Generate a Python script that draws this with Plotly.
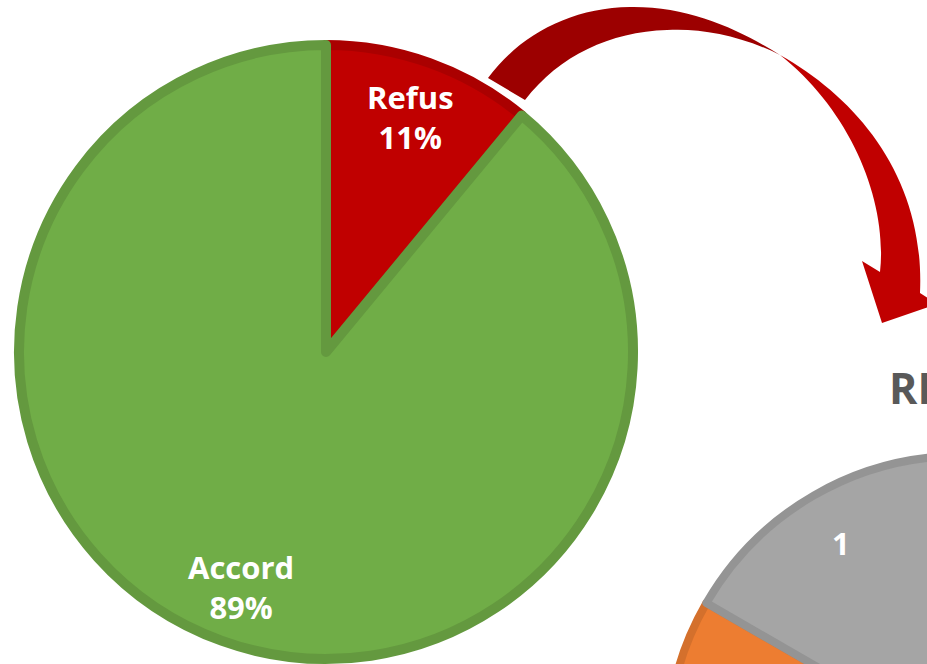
import math
import plotly.graph_objects as go

# ---------------- data ----------------
main_labels = ["Refus", "Accord"]
main_values = [11, 89]
main_colors = ["#C00000", "#70AD47"]
main_line_colors = ["#AA0000", "#64993F"]

sub_title = "REFUS"
sub_labels = ["Motif 1", "Motif 2", "Motif 3"]
sub_values = [3, 2, 1]
sub_colors = ["#4472C4", "#ED7D31", "#A5A5A5"]
sub_line_colors = ["#3D66AE", "#D4702C", "#949494"]

# ---------------- geometry (pixels) ----------------
W, H = 1300, 1100
MAIN_C, MAIN_R = (326, 352), 307
SUB_C, SUB_R = (961, 750), 294
LINE_W = 10


def domain(c, r):
    cx, cy = c
    return dict(x=[(cx - r) / W, (cx + r) / W], y=[1 - (cy + r) / H, 1 - (cy - r) / H])


def label_xy(values, i, c, r, frac=0.8):
    tot = sum(values)
    cum = sum(values[:i]) + values[i] / 2
    a = 2 * math.pi * cum / tot
    return c[0] + frac * r * math.sin(a), c[1] - frac * r * math.cos(a)


fig = go.Figure()
fig.add_trace(go.Scatter(x=[], y=[], showlegend=False, hoverinfo="skip"))

fig.add_trace(go.Pie(
    labels=main_labels, values=main_values, sort=False, direction="clockwise",
    rotation=0, textinfo="none", hoverinfo="label+percent",
    marker=dict(colors=main_colors, line=dict(color=main_line_colors, width=LINE_W)),
    domain=domain(MAIN_C, MAIN_R), showlegend=False))

fig.add_trace(go.Pie(
    labels=sub_labels, values=sub_values, sort=False, direction="clockwise",
    rotation=0, textinfo="none", hoverinfo="label+value",
    marker=dict(colors=sub_colors, line=dict(color=sub_line_colors, width=LINE_W - 2)),
    domain=domain(SUB_C, SUB_R), showlegend=False))

annotations = []
tot = sum(main_values)
for i, (lab, v) in enumerate(zip(main_labels, main_values)):
    x, y = label_xy(main_values, i, MAIN_C, MAIN_R + 5)
    annotations.append(dict(
        x=x, y=y, xref="x", yref="y", showarrow=False,
        text=f"<b>{lab}</b><br><b>{round(100 * v / tot)}%</b>",
        font=dict(family="Open Sans", size=31, color="white")))

for i, v in enumerate(sub_values):
    x, y = label_xy(sub_values, i, SUB_C, SUB_R + 5)
    annotations.append(dict(
        x=x, y=y, xref="x", yref="y", showarrow=False,
        text=f"<b>{v}</b>",
        font=dict(family="Open Sans", size=31, color="white")))

annotations.append(dict(
    x=SUB_C[0] - 6, y=387, xref="x", yref="y", showarrow=False,
    text=f"<b>{sub_title}</b>",
    font=dict(family="Open Sans", size=43, color="#595959")))

# curved arrow (decoration)
arrow_back = ("M 488,78 C 520,35 570,8 630,7 C 690,6 740,30 780,55 "
              "C 740,35 700,28 667,30 C 610,32 560,55 525,100 Z")
arrow_front = ("M 780,55 C 860,100 925,180 920,293 L 937,304 L 882,323 L 862,261 "
               "L 880,272 C 888,200 850,110 780,55 Z")
shapes = [
    dict(type="path", path=arrow_back, xref="x", yref="y",
         fillcolor="#9C0000", line=dict(width=0)),
    dict(type="path", path=arrow_front, xref="x", yref="y",
         fillcolor="#C00000", line=dict(width=0)),
]

fig.update_layout(
    width=W, height=H, margin=dict(l=0, r=0, t=0, b=0, pad=0),
    paper_bgcolor="white", plot_bgcolor="white",
    xaxis=dict(range=[0, W], visible=False, fixedrange=True),
    yaxis=dict(range=[H, 0], visible=False, fixedrange=True),
    annotations=annotations, shapes=shapes, showlegend=False,
)

fig.write_html(
    "out.html",
    post_script="document.body.style.margin='0px';document.body.style.overflow='hidden';",
)
